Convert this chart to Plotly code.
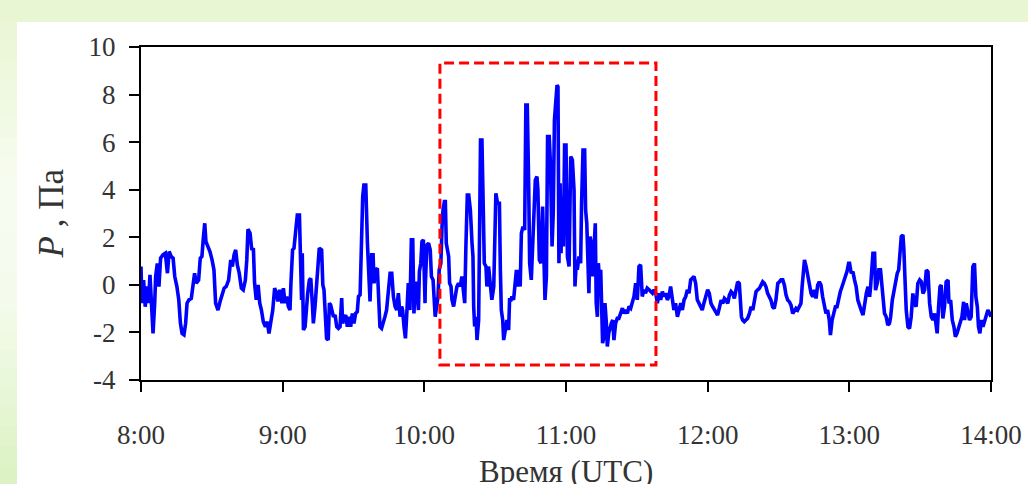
import pandas as pd
import plotly.graph_objects as go

# ---- data: minutes after 08:00 and pressure P (Pa) ----
t_08 = [0.0,0.4,1.1,1.8,2.5,3.2,3.8,4.4,5.1,5.8,6.2,6.9,7.6,8.3,9.3,10.3,11.2,11.9,12.8,13.6,14.3,15.2,16.0,16.7,17.4,18.2,18.9,19.5,20.3,21.3,22.0,22.7,23.4,24.4,25.1,25.8,26.4,27.0,27.5,28.4,29.2,30.1,30.9,31.6,32.6,33.5,34.3,35.2,36.1,37.1,38.0,38.7,39.4,40.1,40.8,41.6,42.5,43.3,44.2,44.8,45.3,46.2,46.9,47.6,48.1,48.8,49.6,50.3,51.0,51.8,52.7,53.5,54.2,54.9,55.8,56.6,57.3,58.0,58.7,59.7]
p_08 = [0.77,-0.77,0.2,-0.92,-0.07,-0.77,0.42,-1.06,-2.04,-0.77,0.35,0.9,-0.07,1.12,1.26,1.33,0.49,1.4,1.19,1.12,0.35,-0.07,-0.63,-1.62,-2.04,-2.1,-1.62,-0.77,-0.63,-0.57,-0.14,0.49,0.07,0.2,1.12,1.19,1.96,2.59,1.82,1.61,1.4,1.05,0.63,-0.77,-1.06,-0.7,-0.42,-0.14,-0.07,0.2,1.05,0.77,1.26,1.47,0.84,0.49,-0.14,-0.21,0.2,1.05,2.34,2.17,1.47,1.54,0.07,-0.63,0.0,-0.77,-1.06,-1.55,-1.76,-1.55,-2.04,-1.62,-1.06,-0.14,-0.35,-0.7,-0.21,-0.77]

t_09 = [60.3,61.0,61.7,62.4,63.1,63.5,64.2,64.8,65.2,65.6,66.2,67.1,67.6,68.0,68.3,68.8,69.5,70.2,70.6,71.3,71.9,72.6,73.0,73.7,74.4,75.1,75.5,76.5,77.0,77.5,78.1,78.6,79.3,79.8,80.3,80.9,81.5,82.2,82.9,83.6,84.3,85.0,85.4,86.0,86.7,87.4,88.1,88.8,89.5,90.2,90.9,91.6,92.1,92.8,93.5,93.9,94.4,95.2,95.9,96.4,97.0,97.7,98.3,98.7,99.4,100.1,100.8,101.2,101.9,102.6,103.3,104.0,104.8,105.5,106.2,106.9,107.6,108.3,109.0,109.7,110.4,110.8,111.4,112.0,112.5,113.2,113.9,114.5,115.1,115.6,116.2,116.8,117.5,117.9,118.5,119.0,119.6,120.3]
p_09 = [-0.14,-0.77,-0.49,-0.91,-1.06,0.07,1.47,1.54,2.03,2.38,2.94,2.94,1.19,-0.63,1.33,-1.9,-1.76,-0.77,-0.35,0.2,0.27,-0.84,-1.62,-0.91,0.07,0.63,1.54,1.47,0.0,-0.21,-1.76,-2.25,-2.32,-0.77,-0.84,-1.06,-1.34,-1.27,-1.76,-1.83,-1.76,-0.56,-1.62,-1.41,-1.27,-1.76,-1.34,-1.76,-1.2,-1.62,-1.2,-1.13,-0.49,-0.42,3.5,3.71,4.2,4.2,1.75,0.35,-0.7,1.26,1.26,0.07,0.63,0.7,-0.49,-1.76,-1.83,-1.62,-1.34,-1.06,-0.35,0.49,0.49,-0.49,-0.91,-1.06,-0.35,-1.34,-0.91,-1.06,-1.76,-2.25,-1.34,0.07,-1.06,1.89,1.89,-1.2,0.07,0.07,-1.06,0.56,0.91,1.82,1.89,-0.77]

t_10 = [120.4,121.1,121.8,122.5,123.0,123.7,124.1,124.6,125.4,125.8,126.3,127.0,127.5,127.9,128.5,128.9,129.3,129.9,130.3,130.7,131.3,131.7,132.4,133.1,133.8,134.5,135.2,135.9,136.6,137.1,137.6,138.2,138.8,139.5,140.2,140.6,140.9,141.3,141.9,142.3,143.0,143.4,143.8,144.4,144.8,145.4,146.1,146.5,147.2,147.9,148.6,149.4,149.8,150.3,151.0,151.8,152.2,152.6,153.2,153.6,154.3,155.0,155.7,156.1,156.7,157.1,157.8,158.5,159.0,159.5,159.9,160.6,161.1,161.8,162.5,163.0,163.6,164.2,164.6,165.3,165.9,166.3,167.0,167.7,168.1,168.7,169.4,170.1,170.7,171.1,171.7,172.2,172.9,173.4,174.1,174.6,175.1,175.8,176.2,176.6,177.0,177.5,177.9,178.3,178.9,179.4,180.0]
p_10 = [-0.07,1.68,1.75,1.47,0.35,0.21,-0.77,-1.34,-0.77,-0.49,0.63,0.91,2.45,3.14,3.5,3.5,1.75,1.26,1.19,0.07,-0.07,-0.63,-0.91,-0.49,-0.07,0.07,-0.07,0.35,-0.21,-0.77,1.61,3.78,3.78,3.14,1.75,1.19,-0.91,-1.75,-1.34,-2.32,-1.48,3.71,6.09,6.09,3.29,0.91,0.77,-0.07,0.77,-0.07,-0.63,-0.07,2.73,3.85,3.43,3.43,0.63,-1.06,-1.48,-2.32,-1.9,-1.48,-1.9,-0.63,-0.63,-0.49,-0.63,-0.07,0.63,-0.07,0.63,-0.07,2.17,2.45,2.31,7.56,7.56,4.13,0.91,0.21,1.75,3.43,4.4,4.55,3.99,1.05,0.91,3.29,-0.07,-0.63,0.35,6.23,6.23,5.11,1.61,3.01,6.93,7.63,8.4,8.33,0.91,4.27,1.33,3.71,1.61,5.88,5.88]

t_11 = [180.6,181.3,182.0,182.7,183.4,183.8,184.4,184.8,185.5,186.2,186.6,187.2,187.9,188.3,188.8,189.3,189.7,190.2,190.7,191.3,191.9,192.4,192.8,193.3,193.7,194.3,194.7,195.1,195.5,196.1,196.5,197.1,197.5,198.1,198.6,199.2,199.8,200.3,201.0,201.7,202.4,203.2,203.9,204.6,205.3,206.0,206.7,207.4,208.1,208.8,209.5,210.2,210.9,211.6,212.3,213.0,213.7,214.4,215.2,215.9,216.6,217.3,218.0,218.7,219.4,220.1,220.8,221.5,222.2,222.9,223.6,224.3,225.0,225.7,226.4,227.2,227.9,228.6,229.3,230.0,230.7,231.4,232.1,232.8,233.5,234.2,234.9,235.6,236.3,237.0,237.7,238.4,239.2,239.9]
p_11 = [1.19,0.77,5.39,5.25,3.99,-0.07,1.05,0.63,1.19,0.91,3.43,5.67,5.67,3.15,2.59,1.05,-0.35,2.03,1.75,0.35,2.03,2.59,-0.77,-1.34,0.91,0.07,0.63,-0.49,-2.45,-2.17,-0.77,-1.62,-2.59,-2.03,-1.75,-1.62,-1.48,-2.32,-1.62,-1.41,-1.41,-1.2,-0.98,-1.2,-1.06,-1.2,-0.91,-0.98,-0.7,-0.49,0.07,-0.63,0.77,0.84,-0.49,-0.21,-0.35,-0.14,-0.21,-0.28,-0.35,-0.21,-0.35,-0.77,-0.35,-0.63,-0.28,-0.49,-0.35,-0.63,-0.49,-0.07,-0.63,-1.06,-0.77,-1.34,-1.06,-0.77,-1.06,-0.63,-0.49,-0.21,-0.35,0.21,0.28,0.35,0.07,-0.63,-0.77,-0.91,-1.06,-0.77,-0.49,-0.28]

t_12 = [240.0,240.7,241.4,242.1,242.8,243.5,244.2,244.9,245.7,246.4,247.1,247.8,248.5,249.2,249.9,250.6,251.3,252.0,252.7,253.4,253.8,254.3,254.8,255.5,256.2,256.9,257.7,258.4,259.1,259.8,260.5,261.2,261.9,262.6,263.3,264.0,264.7,265.4,266.1,266.8,267.5,268.2,268.9,269.7,270.4,271.1,271.8,272.5,273.2,273.9,274.6,275.3,276.0,276.7,277.4,278.1,278.8,279.5,280.0,280.5,281.0,281.7,282.4,283.1,283.8,284.5,285.2,285.9,286.6,287.3,288.0,288.7,289.4,290.1,290.8,291.5,292.0,292.7,293.4,294.1,294.8,295.5,296.2,296.9,297.6,298.3,299.0,299.7]
p_12 = [-0.21,-0.36,-0.78,-0.92,-1.06,-1.2,-1.27,-0.99,-0.64,-0.78,-0.57,-0.64,-0.78,-0.43,-0.28,-0.36,-0.57,-0.21,0.13,0.06,-0.64,-1.34,-1.48,-1.55,-1.48,-1.41,-1.2,-0.92,-1.06,-0.64,-0.28,-0.21,-0.15,-0.01,0.13,0.06,-0.08,-0.36,-0.5,-0.64,-0.92,-0.99,-0.64,0.06,0.13,0.21,0.21,-0.01,-0.43,-0.64,-0.71,-0.85,-1.2,-1.06,-0.99,-1.06,-0.92,-0.78,-0.08,0.77,1.05,0.77,0.35,-0.08,-0.36,-0.5,-0.21,-0.57,-0.01,0.13,-0.01,-0.5,-0.78,-1.2,-1.06,-1.48,-2.11,-1.48,-1.2,-0.92,-0.92,-0.5,-0.28,-0.08,0.13,0.27,0.56,0.91]

t_13 = [300.1,300.8,301.5,302.2,302.9,303.6,304.3,305.0,305.8,306.5,307.2,307.9,308.6,309.0,309.6,310.0,310.7,311.1,311.8,312.5,313.2,313.8,314.4,314.9,315.6,316.3,317.0,317.5,318.2,318.9,319.6,320.3,320.9,321.4,322.0,322.7,323.1,323.7,324.1,324.8,325.5,326.2,326.9,327.6,328.3,329.0,329.8,330.5,331.2,331.9,332.6,333.3,334.0,334.7,335.4,336.1,336.8,337.2,337.8,338.4,338.9,339.6,340.3,341.0,341.8,342.2,342.9,343.6,344.3,344.9,345.6,346.3,347.0,347.7,348.4,348.8,349.5,350.2,350.9,351.6,352.3,353.0,353.6,354.2,354.7,355.3,355.9,356.6,357.3,358.0,358.7,359.4,360.0]
p_13 = [0.91,0.49,0.56,0.21,-0.08,-0.64,-0.92,-1.06,-1.27,-0.78,-0.36,-0.08,-0.5,-0.08,1.19,1.33,1.33,-0.22,0.06,0.63,0.63,0.06,-0.64,-1.2,-1.34,-1.69,-1.62,-1.34,-0.64,-0.29,0.21,0.49,0.63,1.19,2.03,2.1,1.47,-0.08,-1.06,-1.76,-1.83,-1.34,-0.36,-0.78,-0.92,0.06,0.21,0.13,-0.36,-0.22,0.62,0.55,-0.78,-1.34,-1.48,-1.2,-1.62,-2.04,-0.92,-0.08,-0.01,-1.41,-0.92,0.13,0.2,-0.78,-0.64,-1.48,-1.76,-2.18,-2.04,-1.76,-1.62,-1.34,-0.71,-1.48,-0.78,-1.2,-1.48,-1.34,0.76,0.9,-0.5,-0.92,-1.76,-2.04,-1.48,-1.76,-1.48,-1.34,-1.06,-1.2,-1.34]

hour_ticks = ["8:00", "9:00", "10:00", "11:00", "12:00", "13:00", "14:00"]
y_ticks = [-4, -2, 0, 2, 4, 6, 8, 10]

# highlighted interval (dashed red frame)
hl_start_min, hl_end_min = 126.6, 218.1
hl_p_low, hl_p_high = -3.37, 9.33

# ---- build ----
base = pd.Timestamp("2000-01-01 08:00")
t_all = t_08 + t_09 + t_10 + t_11 + t_12 + t_13
p_all = p_08 + p_09 + p_10 + p_11 + p_12 + p_13
x_all = [base + pd.Timedelta(minutes=m) for m in t_all]
tick_vals = [base + pd.Timedelta(hours=i) for i in range(len(hour_ticks))]

fig = go.Figure()
fig.add_trace(go.Scatter(x=x_all, y=p_all, mode="lines",
                         line=dict(color="#0000ff", width=3.6), showlegend=False))

fig.add_shape(type="rect", xref="x", yref="y",
              x0=base + pd.Timedelta(minutes=hl_start_min),
              x1=base + pd.Timedelta(minutes=hl_end_min),
              y0=hl_p_low, y1=hl_p_high,
              line=dict(color="#ff0000", width=3, dash="10px,5px"))

# background: green page with white panel
W, H = 1028, 484
L, R, T, B = 141, 37, 47, 104
pw, ph = W - L - R, H - T - B
def px(xp): return (xp - L) / pw
def py(yp): return (H - B - yp) / ph

fig.add_shape(type="rect", xref="paper", yref="paper", layer="below",
              x0=px(17), x1=px(W), y0=py(H), y1=py(22),
              line=dict(width=0), fillcolor="white")
# left strip gradient
keys = [(0.0, (233, 246, 213)), (0.35, (247, 252, 241)), (0.6, (244, 251, 236)), (1.0, (219, 242, 195))]
def col(t):
    for (t0, c0), (t1, c1) in zip(keys[:-1], keys[1:]):
        if t0 <= t <= t1:
            f = (t - t0) / (t1 - t0)
            return "rgb(%d,%d,%d)" % tuple(round(a + (b - a) * f) for a, b in zip(c0, c1))
    return "rgb(%d,%d,%d)" % keys[-1][1]
nb = 24
for i in range(nb):
    y0p = 22 + (H - 22) * i / nb
    y1p = 22 + (H - 22) * (i + 1) / nb
    fig.add_shape(type="rect", xref="paper", yref="paper", layer="below",
                  x0=px(0), x1=px(17), y0=py(y1p + 1), y1=py(y0p),
                  line=dict(width=0), fillcolor=col((i + 0.5) / nb))

font_tick = dict(family="Liberation Serif, Times New Roman, serif", size=27, color="#333333")
axis_common = dict(showline=True, linecolor="black", linewidth=2, mirror=True,
                   ticks="outside", ticklen=10, tickwidth=2, tickcolor="black",
                   showgrid=False, zeroline=False, tickfont=font_tick, automargin=False)

fig.update_xaxes(type="date", range=[tick_vals[0], tick_vals[-1]],
                 tickvals=tick_vals, ticktext=hour_ticks, ticklabelstandoff=20, **axis_common)
fig.update_yaxes(range=[y_ticks[0], y_ticks[-1]], tickvals=y_ticks,
                 ticktext=[str(v) for v in y_ticks], ticklabelstandoff=8, **axis_common)

fig.add_annotation(text="Время (UTC)", xref="paper", yref="paper", x=0.5, y=py(452),
                   xanchor="center", yanchor="top", showarrow=False,
                   font=dict(family="Liberation Serif, Times New Roman, serif", size=31, color="#333333"))
fig.add_annotation(text="<i>P</i> , Па", xref="paper", yref="paper", x=px(51), y=0.5,
                   textangle=-90, xanchor="center", yanchor="middle", showarrow=False,
                   font=dict(family="Liberation Serif, Times New Roman, serif", size=35, color="#333333"))

fig.update_layout(width=W, height=H, margin=dict(l=L, r=R, t=T, b=B, pad=0),
                  paper_bgcolor="rgb(232,246,211)", plot_bgcolor="white")

fig.write_html("out.html", config={"displayModeBar": False},
               post_script="document.body.style.margin='0';document.body.style.overflow='hidden';")
